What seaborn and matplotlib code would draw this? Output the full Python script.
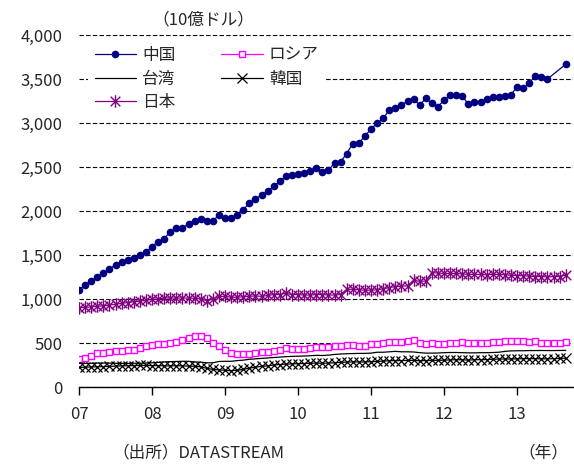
import numpy as np
import pandas as pd
import matplotlib
matplotlib.use("Agg")
import matplotlib.pyplot as plt
from matplotlib.path import Path
import seaborn as sns

# monthly, Jan 2007 - Sep 2013 (billion USD)
china = [1105, 1160, 1205, 1246, 1295, 1341, 1387, 1417, 1444, 1466, 1500, 1531,
         1596, 1653, 1683, 1767, 1805, 1808, 1854, 1892, 1911, 1881, 1884, 1957,
         1919, 1919, 1960, 2014, 2090, 2139, 2181, 2223, 2280, 2337, 2394, 2405,
         2420, 2428, 2451, 2493, 2444, 2463, 2546, 2558, 2653, 2767, 2774, 2850,
         2934, 2995, 3052, 3147, 3173, 3204, 3249, 3268, 3204, 3280, 3223, 3185,
         3261, 3318, 3318, 3310, 3211, 3242, 3242, 3272, 3291, 3299, 3306, 3318,
         3413, 3401, 3451, 3538, 3519, 3500, None, None, 3667]
russia = [313, 332, 355, 385, 389, 397, 405, 408, 416, 424, 447, 462,
          473, 485, 485, 500, 515, 530, 560, 585, 580, 560, 505, 470,
          420, 385, 380, 380, 380, 385, 395, 400, 405, 420, 440, 435,
          431, 435, 447, 454, 454, 454, 462, 470, 477, 473, 462, 470,
          485, 492, 500, 508, 511, 511, 523, 538, 504, 492, 495, 485,
          492, 504, 504, 511, 500, 500, 500, 500, 511, 511, 519, 528,
          523, 519, 511, 523, 504, 500, 500, 500, 511]
taiwan = [268, 268, 270, 272, 272, 272, 270, 268, 268, 270, 270, 272,
          275, 280, 285, 288, 290, 292, 292, 285, 282, 275, 275, 290,
          292, 292, 300, 305, 315, 320, 325, 330, 335, 340, 345, 348,
          350, 352, 355, 360, 358, 362, 370, 375, 378, 380, 382, 382,
          385, 395, 395, 400, 405, 400, 400, 398, 390, 385, 385, 386,
          390, 392, 392, 390, 388, 388, 390, 390, 392, 395, 405, 410,
          412, 412, 414, 414, 415, 414, 414, 415, 416]
korea = [222, 225, 228, 230, 232, 235, 237, 240, 242, 243, 245, 245,
         243, 243, 240, 240, 242, 240, 238, 235, 230, 212, 200, 195,
         190, 185, 190, 200, 215, 225, 235, 240, 250, 255, 260, 263,
         265, 267, 270, 272, 270, 272, 275, 280, 283, 285, 285, 285,
         288, 290, 295, 298, 300, 300, 302, 303, 298, 300, 303, 303,
         305, 308, 310, 310, 305, 310, 310, 312, 315, 318, 318, 318,
         320, 322, 322, 322, 320, 320, 322, 325, 328]
japan = [900, 905, 910, 918, 922, 930, 940, 950, 960, 968, 975, 985,
         995, 1000, 1012, 1012, 1010, 1012, 1010, 1008, 1000, 980, 1000, 1030,
         1030, 1020, 1020, 1025, 1030, 1035, 1030, 1040, 1050, 1050, 1065, 1050,
         1050, 1045, 1045, 1050, 1050, 1045, 1045, 1050, 1110, 1110, 1105, 1100,
         1100, 1105, 1115, 1130, 1140, 1145, 1150, 1215, 1200, 1205, 1300, 1295,
         1290, 1290, 1290, 1285, 1280, 1280, 1280, 1275, 1280, 1280, 1275, 1270,
         1265, 1265, 1260, 1255, 1255, 1250, 1255, 1255, 1273]

year_ticks = [2007, 2008, 2009, 2010, 2011, 2012, 2013]
year_labels = ["07", "08", "09", "10", "11", "12", "13"]
y_ticks = [0, 500, 1000, 1500, 2000, 2500, 3000, 3500, 4000]

x = 2007 + np.arange(len(china)) / 12
df = pd.DataFrame({"x": x, "中国": china, "ロシア": russia, "台湾": taiwan,
                   "韓国": korea, "日本": japan}).astype(float)

sns.set_style("white")
plt.rcParams["font.family"] = ["Noto Sans CJK JP", "DejaVu Sans"]
plt.rcParams["font.size"] = 12

# asterisk = x plus vertical bar
star = Path([(-1, -1), (1, 1), (-1, 1), (1, -1), (0, -1.3), (0, 1.3)],
            [Path.MOVETO, Path.LINETO, Path.MOVETO, Path.LINETO, Path.MOVETO, Path.LINETO])

styles = {
    "中国": dict(color="#000080", marker="o", markersize=5.5, lw=0.9,
               markeredgecolor="#000080", markeredgewidth=0),
    "ロシア": dict(color="#FF00FF", marker="s", markersize=5, lw=0.9,
                 markerfacecolor="white", markeredgecolor="#FF00FF", markeredgewidth=1),
    "台湾": dict(color="black", lw=0.9),
    "韓国": dict(color="black", marker="x", markersize=7.5, lw=0.9,
               markeredgecolor="black", markeredgewidth=0.9),
    "日本": dict(color="#800080", marker=star, markersize=9, lw=0.9,
               markeredgecolor="#800080", markeredgewidth=1),
}

fig = plt.figure(figsize=(5.74, 4.65), dpi=100)
ax = fig.add_axes([79 / 574, 1 - 387 / 465, (573 - 79) / 574, (387 - 35) / 465])

lines = {}
for name in ["中国", "ロシア", "台湾", "韓国", "日本"]:
    d = df[["x", name]].dropna()
    sns.lineplot(data=d, x="x", y=name, ax=ax, label=name, **styles[name])
    lines[name] = ax.get_lines()[-1]

ax.set_xlim(2007, 2007 + 81.2 / 12)
ax.set_ylim(0, 4000)
ax.set_xlabel("")
ax.set_ylabel("")
ax.set_xticks(year_ticks)
ax.set_xticklabels(year_labels)
ax.set_yticks(y_ticks)
ax.set_yticklabels([f"{v:,}" for v in y_ticks])
ax.yaxis.grid(True, color="black", lw=0.8, linestyle=(0, (4, 2)))
ax.set_axisbelow(True)
for s in ["left", "top", "right"]:
    ax.spines[s].set_visible(False)
ax.spines["bottom"].set_color("black")
ax.spines["bottom"].set_linewidth(1)
ax.tick_params(axis="x", direction="out", length=6, width=1, color="black", pad=8,
               labelsize=12, bottom=True)
ax.tick_params(axis="y", length=0, pad=12, labelsize=12)

order = ["中国", "台湾", "日本", "ロシア", "韓国"]
leg = ax.legend([lines[n] for n in order], order, ncol=2, loc="upper left",
                bbox_to_anchor=(0.018, 0.985), borderaxespad=0, borderpad=0.4,
                handlelength=2.5, handletextpad=0.36, columnspacing=2.75,
                labelspacing=0.4, fontsize=12, frameon=True, fancybox=False)
leg.get_frame().set_facecolor("white")
leg.get_frame().set_edgecolor("none")
leg.get_frame().set_alpha(1)

fig.text(203 / 574, 1 - 20 / 465, "（10億ドル）", ha="center", va="center", fontsize=12)
fig.text(112 / 574, 1 - 453 / 465, "（出所）DATASTREAM", ha="left", va="center", fontsize=12)
fig.text(568 / 574, 1 - 453 / 465, "（年）", ha="right", va="center", fontsize=12)

fig.savefig("out.png", dpi=100)
